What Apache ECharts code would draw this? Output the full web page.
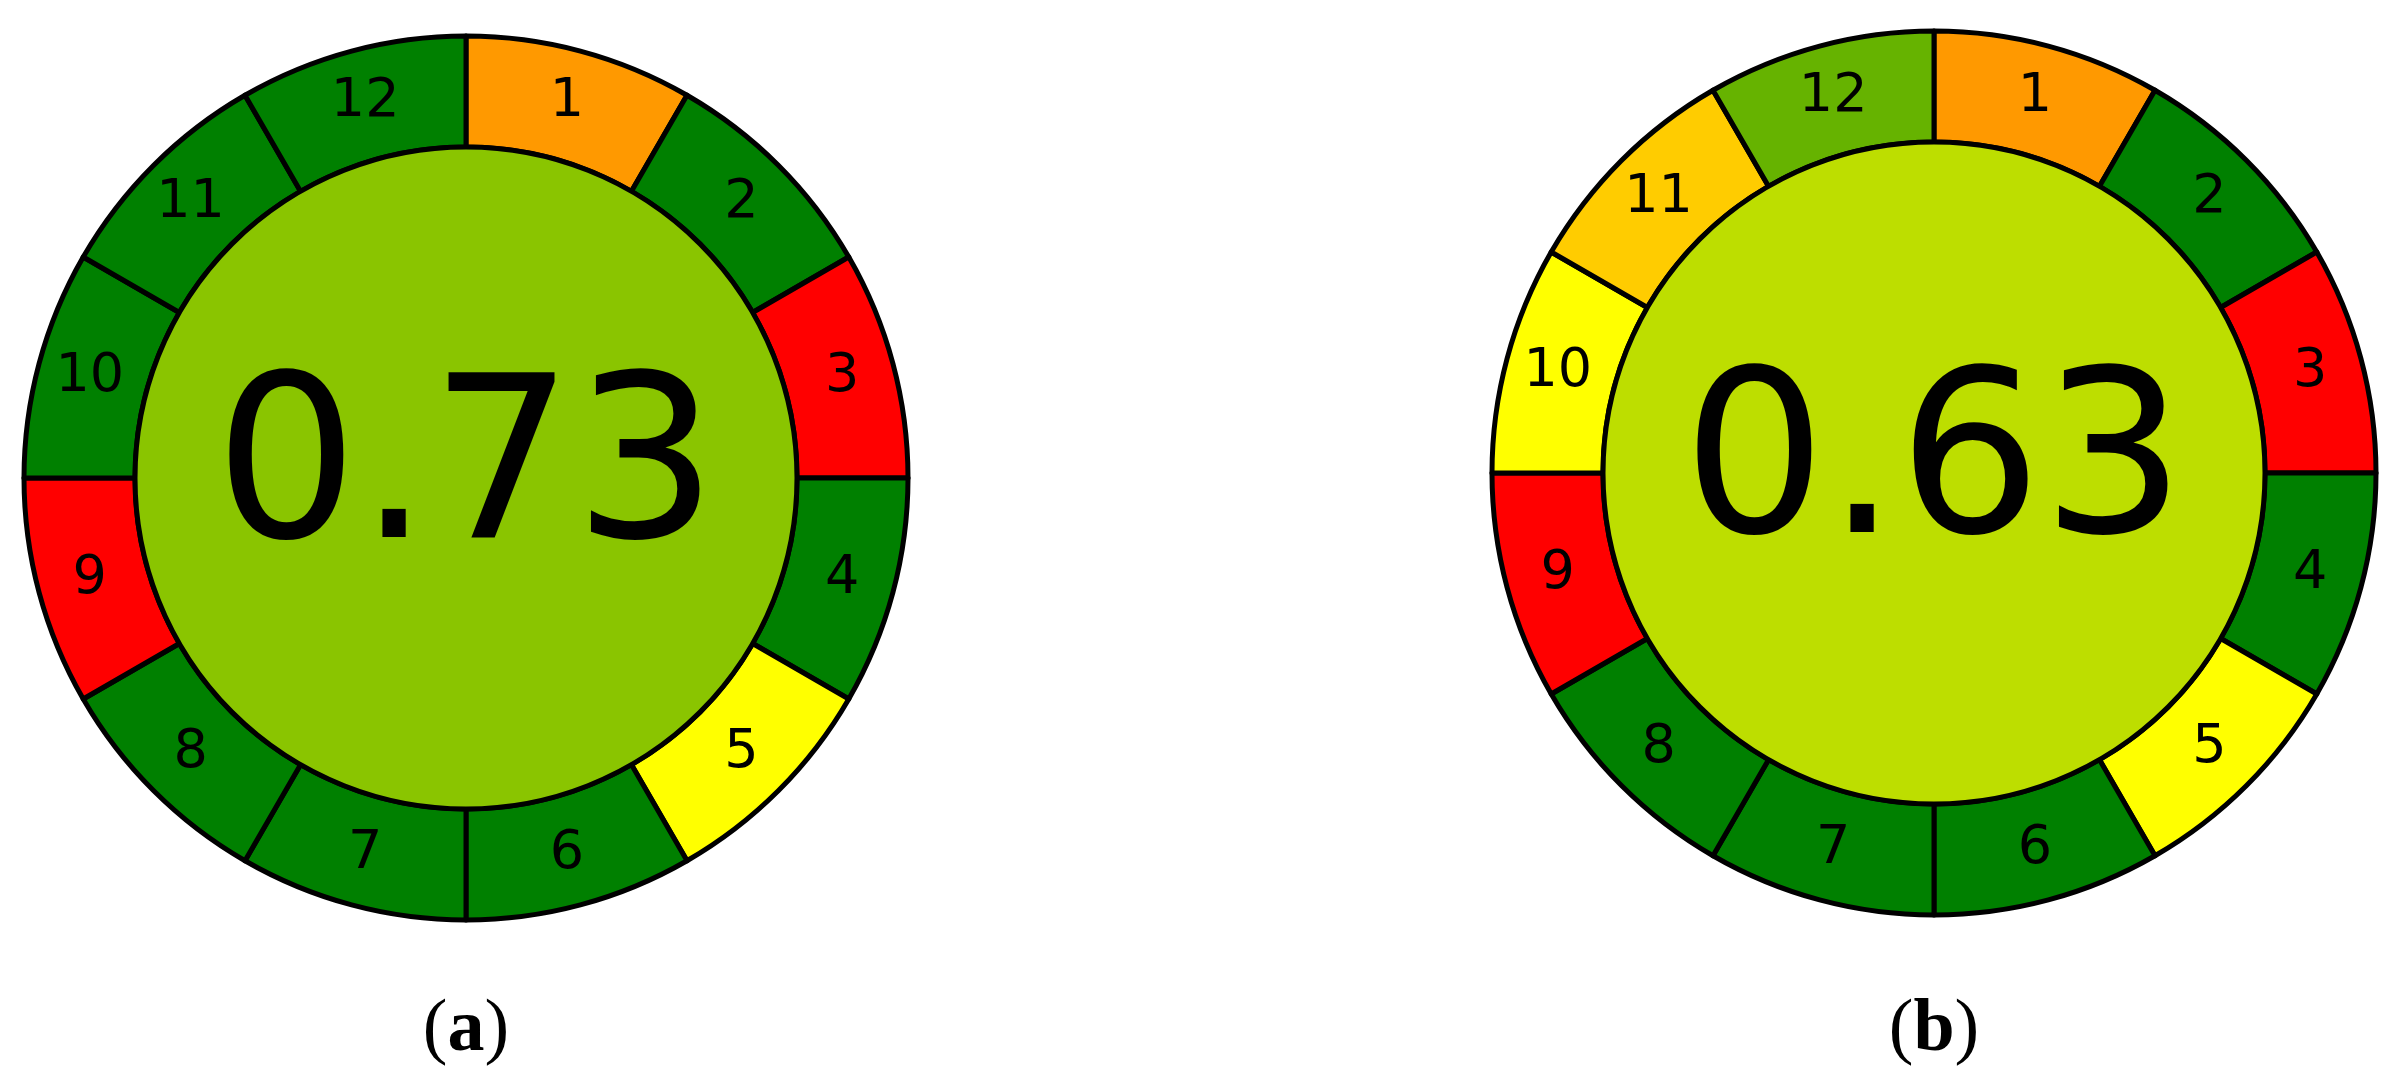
<!DOCTYPE html>
<html>
<head>
<meta charset="utf-8">
<script src="https://cdn.jsdelivr.net/npm/echarts@6/dist/echarts.min.js"></script>
<style>
html, body { margin: 0; padding: 0; background: #ffffff; }
#agreeChart { width: 2404px; height: 1089px; }
</style>
</head>
<body>
<div id="agreeChart"></div>
<script>
// principle numbers round the ring (clockwise from 12 o'clock)
const principles = ['1', '2', '3', '4', '5', '6', '7', '8', '9', '10', '11', '12'];
// score of each principle (0 red, 0.5 yellow, 1 green)
const scoresA = [0.3, 1, 0, 1, 0.5, 1, 1, 1, 0, 1, 1, 1];
const scoresB = [0.3, 1, 0, 1, 0.5, 1, 1, 1, 0, 0.5, 0.4, 0.8];
// overall scores in the middle
const totals = ['0.73', '0.63'];
const panelLabels = ['a', 'b'];

// layout
const centers = [[466, 478], [1934, 473]];
const innerR = 331;
const outerR = 442;
const scaleColors = ['#ff0000', '#ffff00', '#008000'];

function scoreColor(v) {
  return echarts.color.lerp(v, scaleColors);
}

function ringSeries(scores, center) {
  return {
    type: 'pie',
    center: center,
    radius: [innerR, outerR],
    startAngle: 90,
    clockwise: true,
    silent: true,
    animation: false,
    label: {
      show: true,
      position: 'inside',
      rotate: 0,
      formatter: '{b}',
      color: '#000000',
      fontFamily: 'DejaVu Sans',
      fontSize: 54
    },
    labelLine: { show: false },
    itemStyle: {
      borderColor: '#000000',
      borderWidth: 5
    },
    data: principles.map((p, i) => ({
      name: p,
      value: 1,
      itemStyle: { color: scoreColor(scores[i]) }
    }))
  };
}

function discSeries(total, center) {
  return {
    type: 'pie',
    center: center,
    radius: [0, innerR],
    silent: true,
    animation: false,
    label: {
      show: true,
      position: 'center',
      formatter: total,
      color: '#000000',
      fontFamily: 'DejaVu Sans',
      fontSize: 226,
      padding: [0, 0, 8, 0]
    },
    labelLine: { show: false },
    itemStyle: {
      borderColor: '#000000',
      borderWidth: 5,
      color: scoreColor(parseFloat(total))
    },
    data: [{ name: total, value: 1 }]
  };
}

const chartDom = document.getElementById('agreeChart');
const agreeChart = echarts.init(chartDom);

let options = {
  animation: false,
  series: [
    ringSeries(scoresA, centers[0]),
    discSeries(totals[0], centers[0]),
    ringSeries(scoresB, centers[1]),
    discSeries(totals[1], centers[1])
  ],
  graphic: panelLabels.map((p, i) => ({
    type: 'text',
    x: centers[i][0],
    y: 1031,
    silent: true,
    style: {
      text: '{n|(}{b|' + p + '}{n|)}',
      align: 'center',
      verticalAlign: 'middle',
      rich: {
        n: { fill: '#000000', fontFamily: 'Liberation Serif', fontSize: 74 },
        b: { fill: '#000000', fontFamily: 'Liberation Serif', fontSize: 74, fontWeight: 'bold' }
      }
    }
  }))
};

agreeChart.setOption(options);
window.onresize = () => {
  agreeChart.resize();
};
</script>
</body>
</html>
